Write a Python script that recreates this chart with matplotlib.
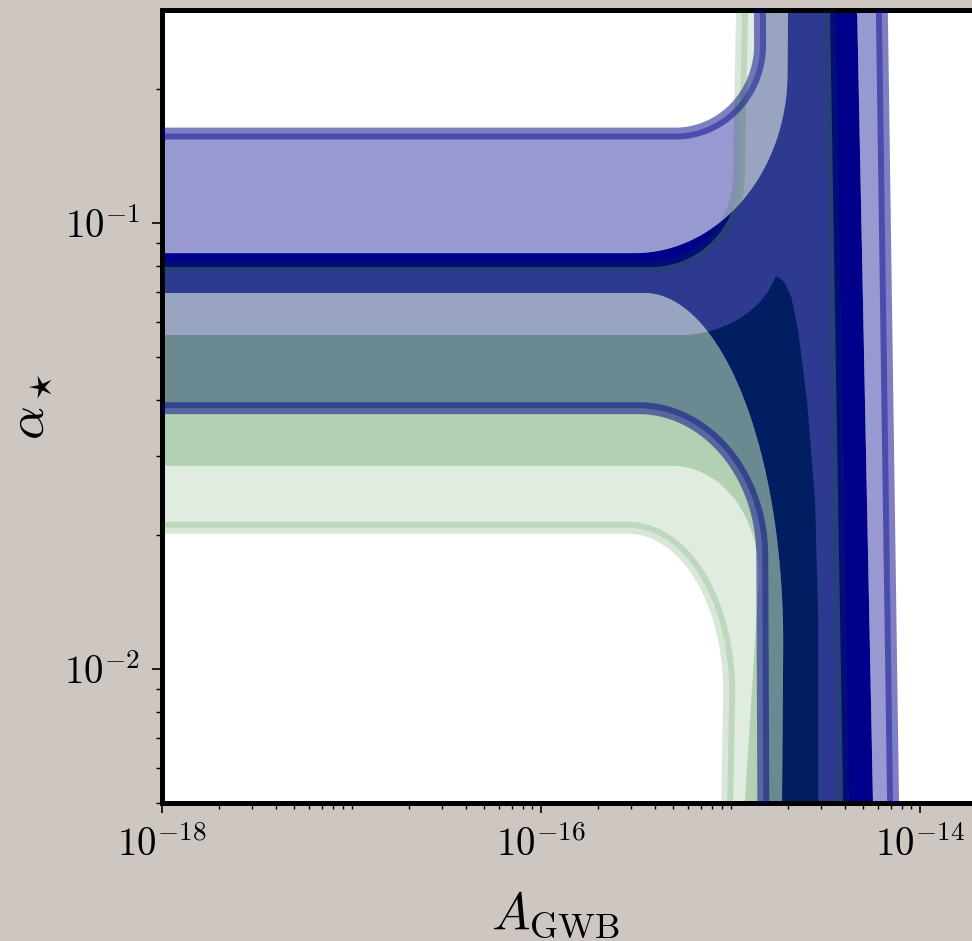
import numpy as np
import matplotlib
matplotlib.use("Agg")
import matplotlib.pyplot as plt
from matplotlib.colors import to_rgb
from matplotlib.ticker import FixedLocator, FuncFormatter, NullFormatter

plt.rcParams["mathtext.fontset"] = "cm"
plt.rcParams["font.family"] = "serif"

# credible regions in the (A_GWB, alpha_star) plane, one set of numbers per level
# horizontal band (low amplitude): alpha range
blue_band_1s = (0.0696, 0.0855)
blue_band_2s = (0.0384, 0.1585)
green_band_1s = (0.0285, 0.0560)
green_band_2s = (0.0207, 0.0796)

# vertical band: amplitude of the left / right edge at a few alpha values
blue_left_1s = ([0.005, 0.30], [1.87e-15, 2.01e-15])
blue_right_1s = ([0.005, 0.30], [5.65e-15, 4.66e-15])
blue_left_2s = ([0.005, 0.30], [1.49e-15, 1.43e-15])
blue_right_2s = ([0.005, 0.30], [7.21e-15, 6.29e-15])
green_left_2s = ([0.005, 0.30], [9.6e-16, 1.15e-15])
green_right_2s = ([0.005, 0.30], [3.93e-15, 3.35e-15])
green_left_1s = ([0.005, 0.0756], [1.19e-15, 1.78e-15])
green_right_1s = ([0.0050, 0.0129, 0.0239, 0.0401, 0.0575, 0.0682, 0.0737, 0.0756],
                  [2.90e-15, 2.90e-15, 2.79e-15, 2.53e-15, 2.27e-15, 2.09e-15, 1.92e-15, 1.78e-15])
green_top_1s = 0.0756  # the 1-sigma vertical band closes here

# corner roundings (decades in A, decades in alpha): upper-left, lower-left
blue_fillet_1s = ((0.80, 0.40), (0.75, 0.80))
blue_fillet_2s = ((0.45, 0.20), (0.65, 0.33))
green_fillet_1s = ((0.50, 0.17), (0.50, 0.27))
green_fillet_2s = ((0.45, 0.20), (0.55, 0.38))

blue = "#00008b"
green = "#006400"

xlim = (1e-18, 1e-13)
ylim = (0.005, 0.3)

U, V = np.meshgrid(np.linspace(np.log10(xlim[0]), np.log10(xlim[1]), 1400),
                   np.linspace(np.log10(ylim[0]), np.log10(ylim[1]), 1000))


def edge(pts):
    a, amp = pts
    return np.interp(V, np.log10(a), np.log10(amp))


def round_union(a, b):
    # union of two half-planes (a<0 or b<0) with an elliptical fillet of unit radius
    return np.maximum(1.0, np.minimum(a, b)) - np.hypot(np.clip(1 - a, 0, None),
                                                         np.clip(1 - b, 0, None))


def level_field(band, left, right, fillets, top=None):
    lo, hi = np.log10(band)
    ul, ur = edge(left), edge(right)
    (fu_t, fv_t), (fu_b, fv_b) = fillets
    s_top = round_union((V - hi) / fv_t, (ul - U) / fu_t)
    s_bot = round_union((lo - V) / fv_b, (ul - U) / fu_b)
    s = np.maximum(np.maximum(s_top, s_bot), (U - ur) / 0.05)
    if top is not None:
        s = np.maximum(s, (V - np.log10(top)) / 0.05)
    return s


def lighten(c, f=0.6):
    return tuple(np.array(to_rgb(c)) * (1 - f) + f)


fig = plt.figure(figsize=(9.72, 9.41), dpi=100, facecolor="#cdc6c1")
ax = fig.add_axes([162 / 972, 138 / 941, 947.5 / 972, 793 / 941])
ax.set_xscale("log")
ax.set_yscale("log")

X, Y = 10 ** U, 10 ** V
posteriors = [
    (blue, 1.0, level_field(blue_band_1s, blue_left_1s, blue_right_1s, blue_fillet_1s),
     level_field(blue_band_2s, blue_left_2s, blue_right_2s, blue_fillet_2s)),
    (green, 0.3, level_field(green_band_1s, green_left_1s, green_right_1s, green_fillet_1s, green_top_1s),
     level_field(green_band_2s, green_left_2s, green_right_2s, green_fillet_2s)),
]

z = 1
for color, alpha, s1, s2 in posteriors:
    ring = np.maximum(s2, -s1)
    ax.contourf(X, Y, ring, levels=[ring.min() - 1, 0], colors=[lighten(color)],
                alpha=alpha, antialiased=True, zorder=z)
    ax.contourf(X, Y, s1, levels=[s1.min() - 1, 0], colors=[color],
                alpha=alpha, antialiased=True, zorder=z)
    z += 1
for color, alpha, s1, s2 in posteriors:
    ax.contour(X, Y, s2, levels=[0], colors=[color], linewidths=8.6,
               alpha=0.5 * alpha, zorder=5)

ax.set_xlim(*xlim)
ax.set_ylim(*ylim)

xmaj = [1e-18, 1e-16, 1e-14]
xmin = [k * 10.0 ** n for n in range(-18, -13) for k in range(1, 10) if k * 10.0 ** n not in xmaj]
ymaj = [1e-2, 1e-1]
ymin = [k * 10.0 ** n for n in range(-3, 0) for k in range(1, 10)
        if ylim[0] <= k * 10.0 ** n <= ylim[1] and k != 1]
ax.xaxis.set_major_locator(FixedLocator(xmaj))
ax.xaxis.set_minor_locator(FixedLocator(xmin))
ax.yaxis.set_major_locator(FixedLocator(ymaj))
ax.yaxis.set_minor_locator(FixedLocator(ymin))
fmt = FuncFormatter(lambda x, pos: r"$10^{%d}$" % int(round(np.log10(x))))
ax.xaxis.set_major_formatter(fmt)
ax.yaxis.set_major_formatter(fmt)
ax.xaxis.set_minor_formatter(NullFormatter())
ax.yaxis.set_minor_formatter(NullFormatter())

ax.tick_params(which="major", direction="out", length=7.5, width=1.2, labelsize=28)
ax.tick_params(which="minor", direction="out", length=4.5, width=1.0)
ax.tick_params(axis="x", which="major", pad=9)
ax.tick_params(axis="y", which="major", pad=8)
for sp in ax.spines.values():
    sp.set_linewidth(3.6)

ax.set_xlabel(r"$A_{\rm GWB}$", fontsize=37)
ax.set_ylabel(r"$\alpha_\star$", fontsize=38)
ax.xaxis.set_label_coords((556 - 162) / 947.5, -(890 - 803) / 793)
ax.yaxis.set_label_coords(-(162 - 56) / 947.5, 0.5)

fig.savefig("out.png", dpi=100, facecolor=fig.get_facecolor())
